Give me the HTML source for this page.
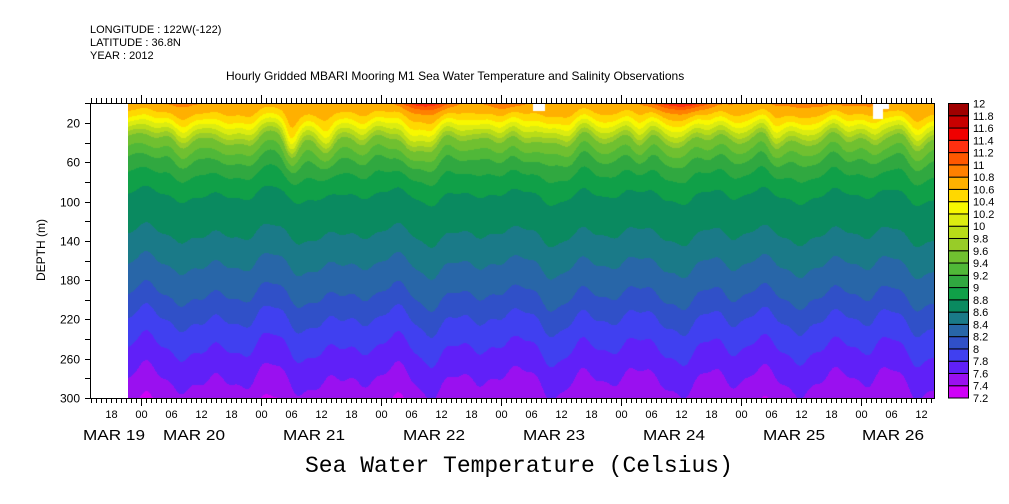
<!DOCTYPE html>
<html><head><meta charset="utf-8"><style>
body{margin:0;background:#fff;width:1009px;height:504px;overflow:hidden;position:relative;font-family:"Liberation Sans",sans-serif;}
.t{position:absolute;font-size:11px;color:#000;white-space:nowrap;line-height:1}
canvas{position:absolute;left:128px;top:103px}
svg{position:absolute;left:0;top:0}
</style></head><body>
<div class="t" style="left:90px;top:25px">LONGITUDE : 122W(-122)</div>
<div class="t" style="left:90px;top:38px">LATITUDE : 36.8N</div>
<div class="t" style="left:90px;top:51px">YEAR : 2012</div>
<div class="t" style="left:226px;top:70px;font-size:12px">Hourly Gridded MBARI Mooring M1 Sea Water Temperature and Salinity Observations</div>
<canvas id="c" width="806" height="295"></canvas>
<svg id="s" width="1009" height="504"></svg>
<div class="t" style="left:305px;top:455px;font-size:23px;font-family:'Liberation Mono',monospace">Sea Water Temperature (Celsius)</div>
<script>
var cols=["#d000f8","#9a10f0","#6020f8","#4040f0","#3050c8","#2866a8","#1a7a88","#0a8a60","#10a048","#30a840","#50b838","#70c030","#98cc28","#b8dc18","#dcec10","#f8f800","#ffd800","#ffb000","#ff8000","#ff5800","#ff3010","#f00000","#c80000","#a00000"];
var P=[[0,10.72],[10,10.6],[17,10.4],[27,10.0],[37,9.6],[58,9.2],[73,9.0],[94,8.8],[134,8.6],[165,8.4],[196,8.2],[221,8.0],[250,7.8],[282,7.6],[305,7.45],[400,7.0]];
function prof(d){if(d<=0)return P[0][1];for(var i=1;i<P.length;i++){if(d<=P[i][0]){var a=P[i-1],b=P[i];return a[1]+(b[1]-a[1])*(d-a[0])/(b[0]-a[0]);}}return 7;}
function g(x,c,w){return Math.exp(-((x-c)/w)*((x-c)/w));}
var cv=document.getElementById('c'),ctx=cv.getContext('2d');
var img=ctx.createImageData(806,295);
function hex(h){return [parseInt(h.substr(1,2),16),parseInt(h.substr(3,2),16),parseInt(h.substr(5,2),16)];}
var rgb=cols.map(hex);
for(var px=0;px<806;px++){
 var X=px+128,t=(X-140.7)/5;
 var w=Math.sin(2*Math.PI*t/12.4+0.8)*0.6+Math.sin(2*Math.PI*t/24+1.5)*0.4+Math.sin(t*1.37)*0.18+Math.sin(t*0.71+2)*0.15;
 var dip=14*g(X,290,8)+12*g(X,328,9)+16*g(X,410,12)+9*g(X,520,10)+7*g(X,235,10)+8*g(X,772,8)+6*g(X,640,10)+6*g(X,875,8)+4*Math.sin(t*0.9);
 var hot=0.8*g(X,425,25)+0.8*g(X,680,30)+0.35*g(X,505,20)+0.2*g(X,830,90)+0.15*g(X,180,30);
 for(var py=0;py<295;py++){
  var d=(py+0.5)/0.982;
  var A=5+0.045*d;
  var up=dip*Math.exp(-Math.pow((d-45)/35,2));
  var de=d+A*w-up;
  var T=prof(de)+hot*Math.exp(-d/7);
  var k=Math.floor((T-7.2)/0.2);if(k<0)k=0;if(k>23)k=23;
  var c=rgb[k],i=(py*806+px)*4;
  img.data[i]=c[0];img.data[i+1]=c[1];img.data[i+2]=c[2];img.data[i+3]=255;
 }
}
ctx.putImageData(img,0,0);
ctx.fillStyle="#fff";ctx.fillRect(533-128,0,12,8);ctx.fillRect(873-128,0,10,16);ctx.fillRect(883-128,0,6,6);
var s='';
var L=90,R=934,T0=103,B=398;
s+='<rect x="'+L+'.5" y="'+T0+'.5" width="'+(R-L)+'" height="'+(B-T0)+'" fill="none" stroke="#000"/>';
for(var d=0;d<=300;d+=20){var y=103.4+d*0.982;y=Math.round(y)+0.5;s+='<line x1="'+(L-5)+'" x2="'+L+'" y1="'+y+'" y2="'+y+'" stroke="#000"/>';
 if((d-20)%40==0||d==300){s+='<text x="'+(L-10)+'" y="'+(y+4)+'" font-size="12" text-anchor="end" font-family="Liberation Sans">'+d+'</text>';}}
s+='<text x="0" y="0" font-size="12" font-family="Liberation Sans" text-anchor="middle" transform="translate(45,250) rotate(-90)">DEPTH (m)</text>';
for(var h=-11;h<=159;h++){var x=Math.round(140.7+h*5)+0.5;if(x<L||x>R)continue;
 var big=((h%24)+24)%24==0;var len=big?8:5;
 s+='<line x1="'+x+'" x2="'+x+'" y1="'+B+'" y2="'+(B+len)+'" stroke="#000"/>';
 s+='<line x1="'+x+'" x2="'+x+'" y1="'+T0+'" y2="'+(T0-len)+'" stroke="#000"/>';
 var hh=((h%24)+24)%24;
 if(hh%6==0){s+='<text x="'+x+'" y="418" font-size="11" text-anchor="middle" font-family="Liberation Sans">'+(hh<10?'0':'')+hh+'</text>';}}
var dl=[[83,'MAR 19'],[163,'MAR 20'],[283,'MAR 21'],[403,'MAR 22'],[523,'MAR 23'],[643,'MAR 24'],[763,'MAR 25'],[862,'MAR 26']];
dl.forEach(function(a){s+='<text x="'+a[0]+'" y="440" font-size="15" font-family="Liberation Sans" textLength="62" lengthAdjust="spacingAndGlyphs">'+a[1]+'</text>';});
var cbh=(398-103.5)/24;
for(var k=0;k<24;k++){var y=398-(k+1)*cbh;s+='<rect x="948.5" y="'+y+'" width="20" height="'+cbh+'" fill="'+cols[k]+'" stroke="#000" stroke-width="1"/>';}
for(var k=0;k<=24;k++){var v=(7.2+k*0.2);var lab=(Math.round(v*10)/10).toString();var y=398-k*cbh;
 s+='<text x="973" y="'+(y+4)+'" font-size="11" font-family="Liberation Sans">'+lab+'</text>';}
document.getElementById('s').innerHTML=s;
</script>
</body></html>
